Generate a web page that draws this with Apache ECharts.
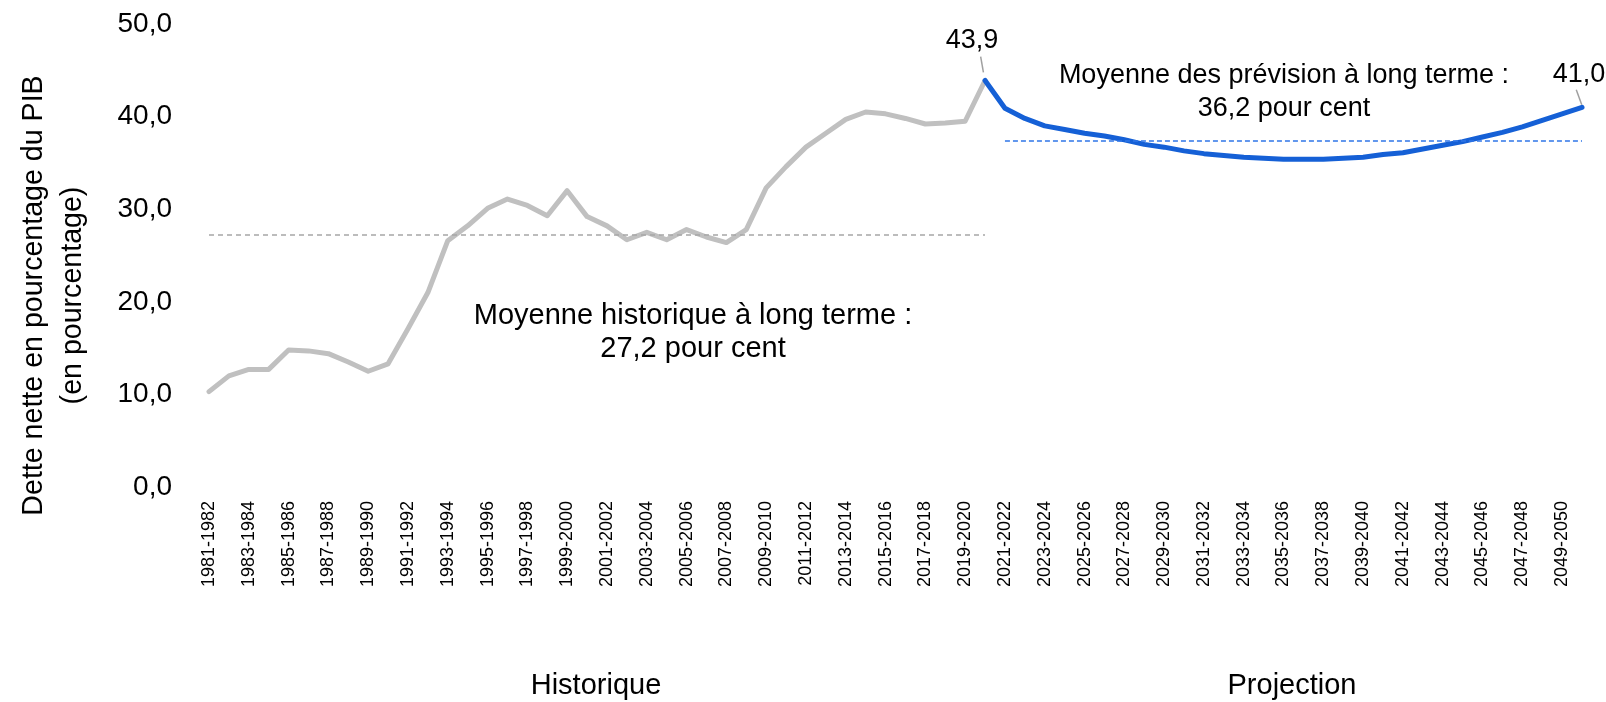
<!DOCTYPE html>
<html>
<head>
<meta charset="utf-8">
<script src="https://cdn.jsdelivr.net/npm/echarts@6/dist/echarts.min.js"></script>
<style>
  html, body { margin: 0; padding: 0; background: #fff; }
  #chart { width: 1606px; height: 702px; }
</style>
</head>
<body>
<div id="chart"></div>
<script>
const categories = [
  '1981-1982', '1982-1983', '1983-1984', '1984-1985', '1985-1986', '1986-1987', '1987-1988', '1988-1989',
  '1989-1990', '1990-1991', '1991-1992', '1992-1993', '1993-1994', '1994-1995', '1995-1996', '1996-1997',
  '1997-1998', '1998-1999', '1999-2000', '2000-2001', '2001-2002', '2002-2003', '2003-2004', '2004-2005',
  '2005-2006', '2006-2007', '2007-2008', '2008-2009', '2009-2010', '2010-2011', '2011-2012', '2012-2013',
  '2013-2014', '2014-2015', '2015-2016', '2016-2017', '2017-2018', '2018-2019', '2019-2020', '2020-2021',
  '2021-2022', '2022-2023', '2023-2024', '2024-2025', '2025-2026', '2026-2027', '2027-2028', '2028-2029',
  '2029-2030', '2030-2031', '2031-2032', '2032-2033', '2033-2034', '2034-2035', '2035-2036', '2036-2037',
  '2037-2038', '2038-2039', '2039-2040', '2040-2041', '2041-2042', '2042-2043', '2043-2044', '2044-2045',
  '2045-2046', '2046-2047', '2047-2048', '2048-2049', '2049-2050', '2050-2051'
]

// 1981-1982 .. 2020-2021
const historique = [
  10.3, 12.0, 12.7, 12.7, 14.8, 14.7, 14.4, 13.5, 12.5, 13.3,
  17.1, 21.0, 26.6, 28.2, 30.1, 31.1, 30.4, 29.3, 32.0, 29.2,
  28.2, 26.7, 27.5, 26.7, 27.8, 27.0, 26.4, 27.8, 32.3, 34.6,
  36.7, 38.2, 39.7, 40.5, 40.3, 39.8, 39.2, 39.3, 39.5, 43.9
]

// 2020-2021 .. 2050-2051
const projection = [
  43.9, 40.9, 39.8, 39.0, 38.6, 38.2, 37.9, 37.5, 37.0, 36.7,
  36.3, 36.0, 35.8, 35.6, 35.5, 35.4, 35.4, 35.4, 35.5, 35.6,
  35.9, 36.1, 36.5, 36.9, 37.3, 37.8, 38.3, 38.9, 39.6, 40.3,
  41.0
]

// levels of the dashed average lines as drawn
const histMeanLevel = 27.2
const projMeanLevel = 37.4

const histMeanText = 'Moyenne historique à long terme :\n27,2 pour cent'
const projMeanText = 'Moyenne des prévision à long terme :\n36,2 pour cent'

const FONT = "'Liberation Sans', Arial, sans-serif"
const fmt = v => v.toFixed(1).replace('.', ',')

const projStart = historique.length - 1
const lastIdx = categories.length - 1
const projData = categories.map((c, i) => i < projStart ? null : projection[i - projStart])

// small grey leader stroke with the value above it
const valueMark = (idx, value, offset, rotate) => ({
  coord: [categories[idx], value],
  value: value,
  symbol: 'rect',
  symbolSize: [1.5, 16],
  symbolOffset: offset,
  symbolRotate: rotate
})

const markLabel = {
  show: true,
  position: 'top',
  distance: 2,
  fontSize: 27,
  color: '#000',
  formatter: p => fmt(p.value)
}

const chart = echarts.init(document.getElementById('chart'))

chart.setOption({
  animation: false,
  textStyle: { fontFamily: FONT },
  grid: { left: 209, right: 24, top: 24, bottom: 215, outerBoundsMode: 'none', containLabel: false },
  xAxis: {
    type: 'category',
    data: categories,
    boundaryGap: false,
    axisLine: { show: false },
    axisTick: { show: false },
    axisLabel: {
      rotate: 90,
      interval: 1,
      margin: 14,
      color: '#000',
      fontSize: 18
    }
  },
  yAxis: {
    type: 'value',
    min: 0,
    max: 50,
    interval: 10,
    splitLine: { show: false },
    axisLine: { show: false },
    axisTick: { show: false },
    axisLabel: {
      margin: 37,
      color: '#000',
      fontSize: 28,
      padding: [5, 0, 0, 0],
      formatter: v => fmt(v)
    },
    name: 'Dette nette en pourcentage du PIB\n(en pourcentage)',
    nameLocation: 'middle',
    nameGap: 116,
    nameTextStyle: {
      color: '#000',
      fontSize: 28.6,
      lineHeight: 39,
      padding: [0, 80, 0, 0]
    }
  },
  graphic: [
    {
      type: 'text', x: 693, y: 299,
      style: { text: histMeanText, fill: '#000', font: '29px ' + FONT, align: 'center', lineHeight: 33 }
    },
    {
      type: 'text', x: 1284, y: 59,
      style: { text: projMeanText, fill: '#000', font: '27px ' + FONT, align: 'center', lineHeight: 33 }
    },
    {
      type: 'text', x: 596, y: 671,
      style: { text: 'Historique', fill: '#000', font: '29px ' + FONT, align: 'center' }
    },
    {
      type: 'text', x: 1292, y: 671,
      style: { text: 'Projection', fill: '#000', font: '29px ' + FONT, align: 'center' }
    }
  ],
  series: [
    {
      name: 'Historique',
      type: 'line',
      data: historique,
      showSymbol: false,
      lineStyle: { color: '#c0c0c0', width: 5, cap: 'round', join: 'round' },
      itemStyle: { color: '#c0c0c0' },
      emphasis: { disabled: true },
      markLine: {
        silent: true,
        symbol: 'none',
        label: { show: false },
        lineStyle: { color: '#a6a6a6', width: 1.5, type: [5, 4] },
        data: [[
          { coord: [categories[0], histMeanLevel] },
          { coord: [categories[projStart], histMeanLevel] }
        ]]
      },
      markPoint: {
        silent: true,
        itemStyle: { color: '#a0a0a0' },
        label: Object.assign({}, markLabel, { offset: [-10, 0] }),
        data: [valueMark(projStart, historique[projStart], [-3, -16], 10)]
      },
      z: 2
    },
    {
      name: 'Projection',
      type: 'line',
      data: projData,
      showSymbol: false,
      lineStyle: { color: '#1560d6', width: 5, cap: 'round', join: 'round' },
      itemStyle: { color: '#1560d6' },
      emphasis: { disabled: true },
      markLine: {
        silent: true,
        symbol: 'none',
        label: { show: false },
        lineStyle: { color: '#2f76e8', width: 1.5, type: [5, 3] },
        data: [[
          { coord: [categories[projStart + 1], projMeanLevel] },
          { coord: [categories[lastIdx], projMeanLevel] }
        ]]
      },
      markPoint: {
        silent: true,
        itemStyle: { color: '#a0a0a0' },
        label: Object.assign({}, markLabel, { offset: [0, 0] }),
        data: [valueMark(lastIdx, projection[projection.length - 1], [-3, -10], 20)]
      },
      z: 3
    }
  ]
})
</script>
</body>
</html>
